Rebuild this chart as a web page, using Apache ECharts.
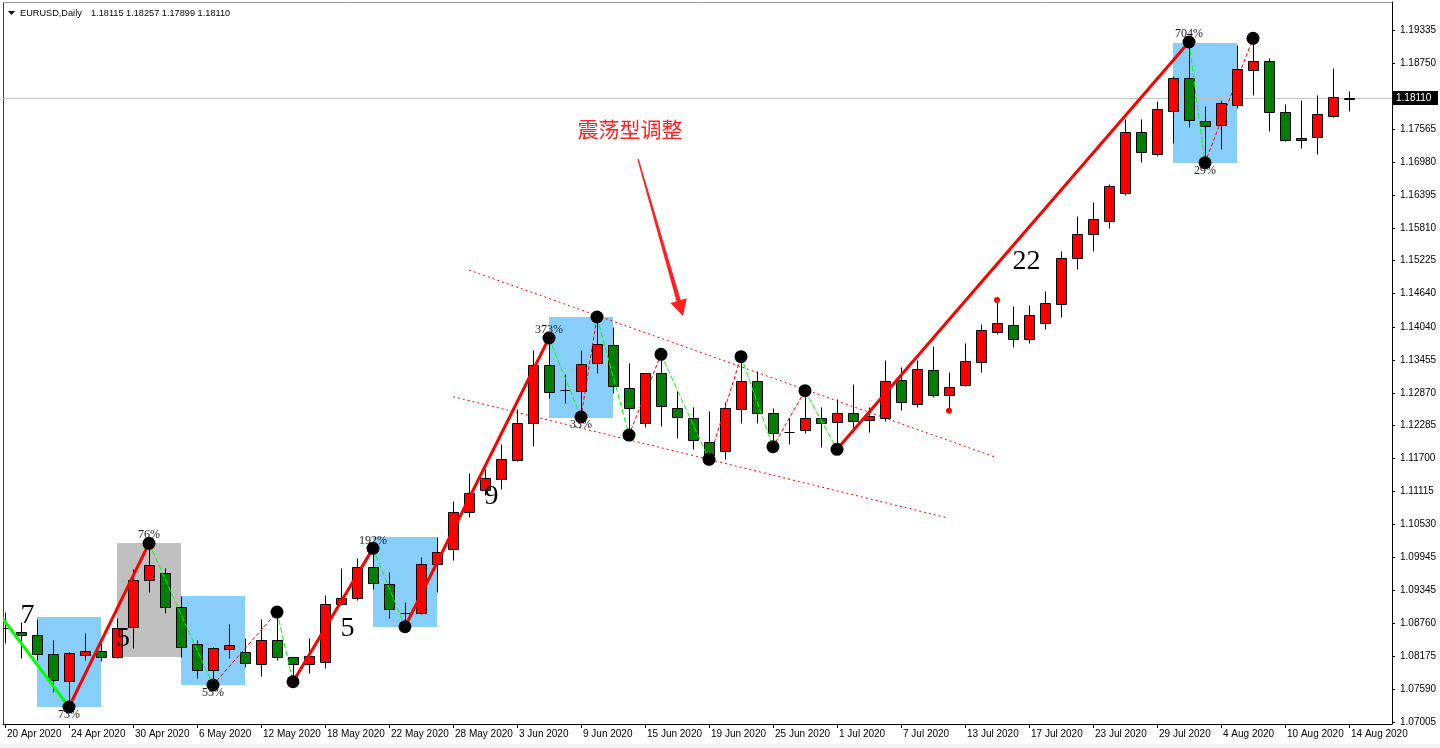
<!DOCTYPE html>
<html><head><meta charset="utf-8">
<script src="https://cdn.jsdelivr.net/npm/echarts@6/dist/echarts.min.js"></script>
<style>html,body{margin:0;padding:0;background:#fff;}#c{width:1440px;height:748px;}</style>
</head><body><div id="c"></div>
<script>
// ---------------- data ----------------
const dates = [
'20 Apr 2020','21 Apr 2020','22 Apr 2020','23 Apr 2020','24 Apr 2020',
'27 Apr 2020','28 Apr 2020','29 Apr 2020','30 Apr 2020','1 May 2020',
'4 May 2020','5 May 2020','6 May 2020','7 May 2020','8 May 2020',
'11 May 2020','12 May 2020','13 May 2020','14 May 2020','15 May 2020',
'18 May 2020','19 May 2020','20 May 2020','21 May 2020','22 May 2020',
'25 May 2020','26 May 2020','27 May 2020','28 May 2020','29 May 2020',
'1 Jun 2020','2 Jun 2020','3 Jun 2020','4 Jun 2020','5 Jun 2020',
'8 Jun 2020','9 Jun 2020','10 Jun 2020','11 Jun 2020','12 Jun 2020',
'15 Jun 2020','16 Jun 2020','17 Jun 2020','18 Jun 2020','19 Jun 2020',
'22 Jun 2020','23 Jun 2020','24 Jun 2020','25 Jun 2020','26 Jun 2020',
'29 Jun 2020','30 Jun 2020','1 Jul 2020','2 Jul 2020','3 Jul 2020',
'6 Jul 2020','7 Jul 2020','8 Jul 2020','9 Jul 2020','10 Jul 2020',
'13 Jul 2020','14 Jul 2020','15 Jul 2020','16 Jul 2020','17 Jul 2020',
'20 Jul 2020','21 Jul 2020','22 Jul 2020','23 Jul 2020','24 Jul 2020',
'27 Jul 2020','28 Jul 2020','29 Jul 2020','30 Jul 2020','31 Jul 2020',
'3 Aug 2020','4 Aug 2020','5 Aug 2020','6 Aug 2020','7 Aug 2020',
'10 Aug 2020','11 Aug 2020','12 Aug 2020','13 Aug 2020','14 Aug 2020'];

const open = [
1.08680,1.08603,1.08555,1.08211,1.07744,
1.08193,1.08269,1.08171,1.08692,1.09535,
1.09654,1.09048,1.08389,1.07931,1.08300,
1.08246,1.08032,1.08465,1.08157,1.08032,
1.08068,1.09107,1.09209,1.09761,1.09463,
1.08950,1.08941,1.09814,1.10082,1.10752,
1.11138,1.11340,1.11673,1.12327,1.13366,
1.12925,1.12908,1.13396,1.13722,1.12950,
1.12327,1.13218,1.12594,1.12416,1.11999,
1.11833,1.12576,1.13081,1.12505,1.12175,
1.12207,1.12416,1.12345,1.12505,1.12380,
1.12430,1.13098,1.12676,1.13277,1.12826,
1.13015,1.13424,1.13948,1.14073,1.13824,
1.14109,1.14453,1.15267,1.15695,1.15926,
1.16436,1.17512,1.17120,1.17892,1.18474,
1.17713,1.17637,1.17993,1.18622,1.18783,
1.17869,1.17375,1.17423,1.17808,1.18115];

const close = [
1.08675,1.08549,1.08216,1.07753,1.08228,
1.08269,1.08171,1.08674,1.09535,1.09802,
1.09059,1.08346,1.07931,1.08328,1.08376,
1.08050,1.08465,1.08157,1.08032,1.08180,
1.09107,1.09209,1.09761,1.09476,1.09013,
1.08955,1.09814,1.10039,1.10752,1.11080,
1.11347,1.11685,1.12327,1.13366,1.12879,
1.12920,1.13384,1.13740,1.12991,1.12594,
1.13218,1.12635,1.12434,1.12029,1.11762,
1.12594,1.13081,1.12505,1.12159,1.12172,
1.12416,1.12327,1.12505,1.12373,1.12457,
1.13081,1.12712,1.13294,1.12836,1.12974,
1.13437,1.13989,1.14109,1.13824,1.14251,
1.14465,1.15267,1.15695,1.15962,1.16555,
1.17512,1.17156,1.17922,1.18474,1.17731,
1.17624,1.18029,1.18635,1.18783,1.17869,
1.17370,1.17416,1.17833,1.18136,1.18110];

const high = [
1.08964,1.08786,1.08840,1.08465,1.08257,
1.08596,1.08412,1.08852,1.09725,1.10189,
1.09743,1.09249,1.08465,1.08341,1.08745,
1.08496,1.08834,1.08964,1.08162,1.08496,
1.09267,1.09743,1.09927,1.10099,1.09683,
1.09148,1.09950,1.10306,1.10948,1.11447,
1.11507,1.11958,1.12576,1.13633,1.13847,
1.13205,1.13633,1.14221,1.14048,1.13407,
1.13228,1.13556,1.12908,1.12612,1.12546,
1.12712,1.13514,1.13259,1.12594,1.12416,
1.12908,1.12623,1.12754,1.13027,1.12623,
1.13455,1.13335,1.13455,1.13704,1.13241,
1.13763,1.14096,1.14524,1.14417,1.14435,
1.14684,1.15397,1.16021,1.16270,1.16586,
1.17744,1.17744,1.18070,1.18515,1.19121,
1.17981,1.18088,1.19068,1.19187,1.18841,
1.18016,1.18088,1.18177,1.18653,1.18257];

const low = [
1.08412,1.08145,1.08109,1.07544,1.07272,
1.08109,1.08091,1.08154,1.08318,1.09326,
1.08941,1.08168,1.07794,1.07664,1.08139,
1.07990,1.07829,1.08109,1.07722,1.07872,
1.07961,1.09089,1.09178,1.09369,1.08852,
1.08702,1.08929,1.09326,1.09891,1.10663,
1.11049,1.11151,1.11655,1.11928,1.12778,
1.12683,1.12439,1.13218,1.12872,1.12118,
1.12256,1.12279,1.12060,1.11864,1.11685,
1.11685,1.12327,1.12327,1.11910,1.11958,
1.12149,1.11899,1.11864,1.12177,1.12177,
1.12373,1.12564,1.12612,1.12790,1.12551,
1.12991,1.13246,1.13913,1.13692,1.13752,
1.14013,1.14226,1.15071,1.15402,1.15812,
1.16400,1.16988,1.17090,1.17316,1.17612,
1.16970,1.17209,1.17940,1.18182,1.17535,
1.17357,1.17227,1.17120,1.17790,1.17899];

const priceTicks = [1.07005,1.07590,1.08175,1.08760,1.09345,1.09945,1.10530,1.11115,1.11700,1.12285,
  1.12870,1.13455,1.14040,1.14640,1.15225,1.15810,1.16395,1.16980,1.17565,1.18150,1.18750,1.19335];
const currentPrice = 1.18110;

// zigzag pivots (bar index, price) and leg kinds
const pivotBar = [-3,4,9,13,17,18,23,25,34,36,37,39,41,44,46,48,50,52,74,75,78];
const pivotPrice = [1.09930,1.07272,1.10189,1.07664,1.08964,1.07722,1.10099,1.08702,1.13847,1.12439,
  1.14221,1.12118,1.13556,1.11685,1.13514,1.11910,1.12908,1.11864,1.19121,1.16970,1.19187];
const legKind = ['mainDown','mainUp','subDown','subUp','subDown','mainUp','subDown','mainUp','subDown','subUp',
  'subDown','subUp','subDown','subUp','subDown','subUp','subDown','mainUp','subDown','subUp'];

// percentage labels at pivots
const pctBar = [4,9,13,23,34,36,74,75];
const pctPrice = [1.07272,1.10189,1.07664,1.10099,1.13847,1.12439,1.19121,1.16970];
const pctText = ['73%','76%','55%','192%','373%','33%','704%','29%'];
const pctSide = [1,-1,1,-1,-1,1,-1,1];

// shaded boxes
const boxFrom = [2,7,11,23,34,73];
const boxTo = [6,11,15,27,38,77];
const boxTop = [1.08870,1.10189,1.09255,1.10306,1.14226,1.19109];
const boxBottom = [1.07266,1.08168,1.07664,1.08702,1.12427,1.16970];
const boxKind = ['zone','pause','zone','zone','zone','zone'];

// dotted channel
const chanFromBar = [29,28], chanFromPrice = [1.15058,1.12801];
const chanToBar = [61.875,58.94], chanToPrice = [1.11726,1.10639];

// small red marks
const markBar = [59,62];
const markPrice = [1.12551,1.14524];

// wave counts
const countBar = [1.406,7.375,21.406,30.406,63.84];
const countPrice = [1.08893,1.08483,1.08661,1.11014,1.15201];
const countText = ['7','5','5','9','22'];

// note and arrow
const noteText = '震荡型调整';
const noteAt = [39.06,1.17571];
const arrowFrom = [39.5625,1.17036];
const arrowTo = [42.375,1.14239];

// ---------------- chart ----------------
const PX_PER_PRICE = 5612.33;
const yMax = 1.19335 + 28 / PX_PER_PRICE;
const yMin = 1.19335 - 694 / PX_PER_PRICE;
const tickIdx = dates.map((d,i)=>i).filter(i=>i%4===0);

const chart = echarts.init(document.getElementById('c'));

const legStyle = {
  mainDown:{stroke:'#00ff00',lineWidth:3},
  mainUp:{stroke:'#ff0000',lineWidth:3},
  subDown:{stroke:'#00ff00',lineWidth:1,lineDash:[5,3]},
  subUp:{stroke:'#ff0000',lineWidth:1,lineDash:[3,3]}
};

const option = {
  animation:false,
  backgroundColor:'#ffffff',
  grid:{left:3,right:48,top:2,bottom:24},
  xAxis:{
    type:'value', min:-0.125, max:86.6875,
    axisLine:{show:true,onZero:false,lineStyle:{color:'#000',width:1}},
    axisTick:{show:true,customValues:tickIdx,length:4,lineStyle:{color:'#000'}},
    axisLabel:{customValues:tickIdx,formatter:v=>dates[Math.round(v)],align:'left',margin:5,
      fontSize:10,fontFamily:'"Liberation Sans", Arial, sans-serif',color:'#000',padding:[0,0,0,2]},
    splitLine:{show:false}
  },
  yAxis:{
    type:'value', position:'right', min:yMin, max:yMax,
    axisLine:{show:true,onZero:false,lineStyle:{color:'#000',width:1}},
    axisTick:{show:true,customValues:priceTicks,length:3,lineStyle:{color:'#000'}},
    axisLabel:{customValues:priceTicks,formatter:v=>v.toFixed(5),margin:8,
      fontSize:10,fontFamily:'"Liberation Sans", Arial, sans-serif',color:'#000'},
    splitLine:{show:false}
  },
  series:[
    { // boxes
      type:'custom', z:1, clip:true, silent:true,
      data: boxFrom.map((b,i)=>[b,boxTop[i],boxTo[i],boxBottom[i]]),
      renderItem(params, api){
        const k = params.dataIndex;
        const p1 = api.coord([api.value(0),api.value(1)]);
        const p2 = api.coord([api.value(2),api.value(3)]);
        return {type:'rect', shape:{x:Math.round(p1[0]),y:Math.round(p1[1]),
          width:Math.round(p2[0])-Math.round(p1[0]),height:Math.round(p2[1])-Math.round(p1[1])},
          style:{fill: boxKind[k]==='pause' ? '#c0c0c0' : '#87cefa'}};
      }
    },
    { // current price line + tag
      type:'custom', z:1, clip:false, silent:true,
      data:[[0,currentPrice]],
      renderItem(params, api){
        const cs = params.coordSys;
        const y = Math.floor(api.coord([0,api.value(1)])[1]) + 0.5;
        const xr = cs.x + cs.width;
        return {type:'group', children:[
          {type:'line', shape:{x1:cs.x,y1:y,x2:xr,y2:y}, style:{stroke:'#c0c0c0',lineWidth:1}},
          {type:'rect', shape:{x:xr+1,y:y-7.5,width:45,height:14}, style:{fill:'#000'}},
          {type:'text', x:xr+4, y:y, style:{text:api.value(1).toFixed(5), font:'10px "Liberation Sans", Arial',
            fill:'#fff', verticalAlign:'middle', align:'left'}}
        ]};
      }
    },
    { // channel lines
      type:'custom', z:2, clip:true, silent:true,
      data: chanFromBar.map((b,i)=>[b,chanFromPrice[i],chanToBar[i],chanToPrice[i]]),
      renderItem(params, api){
        const a = api.coord([api.value(0),api.value(1)]);
        const b = api.coord([api.value(2),api.value(3)]);
        return {type:'line', shape:{x1:a[0],y1:a[1],x2:b[0],y2:b[1]},
          style:{stroke:'#ff0000',lineWidth:1,lineDash:[2,3]}};
      }
    },
    { // candles
      type:'custom', z:3, clip:true, silent:true,
      data: dates.map((d,i)=>[i,open[i],close[i],low[i],high[i]]),
      renderItem(params, api){
        const i = api.value(0), o = api.value(1), c = api.value(2), l = api.value(3), h = api.value(4);
        const pO = api.coord([i,o]), pC = api.coord([i,c]), pL = api.coord([i,l]), pH = api.coord([i,h]);
        const cx = Math.round(pO[0]) + 0.5;
        const yT = Math.round(Math.min(pO[1],pC[1])) + 0.5;
        const yB = Math.round(Math.max(pO[1],pC[1])) + 0.5;
        const hw = 5;
        const ch = [{type:'line', shape:{x1:cx,y1:Math.round(pH[1])+0.5,x2:cx,y2:Math.round(pL[1])+0.5},
          style:{stroke:'#000',lineWidth:1}}];
        if (yB - yT < 1) {
          ch.push({type:'line', shape:{x1:cx-hw,y1:yT,x2:cx+hw,y2:yT}, style:{stroke:'#000',lineWidth:1}});
        } else {
          ch.push({type:'rect', shape:{x:cx-hw,y:yT,width:2*hw,height:yB-yT},
            style:{fill: c>o ? '#ff0000' : '#008000', stroke:'#000', lineWidth:1}});
        }
        return {type:'group', children:ch};
      }
    },
    { // zigzag legs
      type:'custom', z:4, clip:true, silent:true,
      data: legKind.map((k,i)=>[pivotBar[i],pivotPrice[i],pivotBar[i+1],pivotPrice[i+1]]),
      renderItem(params, api){
        const a = api.coord([api.value(0),api.value(1)]);
        const b = api.coord([api.value(2),api.value(3)]);
        return {type:'line', shape:{x1:a[0],y1:a[1],x2:b[0],y2:b[1]},
          style:Object.assign({lineCap:'round'}, legStyle[legKind[params.dataIndex]])};
      }
    },
    { // pivot dots
      type:'scatter', z:5, silent:true, symbolSize:13,
      itemStyle:{color:'#000',opacity:1},
      data: pivotBar.slice(1).map((b,i)=>[b,pivotPrice[i+1]])
    },
    { // small red marks
      type:'scatter', z:5, silent:true, symbolSize:6,
      itemStyle:{color:'#ff0000',opacity:1},
      data: markBar.map((b,i)=>[b,markPrice[i]])
    },
    { // percentage labels
      type:'custom', z:6, clip:false, silent:true,
      data: pctBar.map((b,i)=>[b,pctPrice[i]]),
      renderItem(params, api){
        const k = params.dataIndex;
        const p = api.coord([api.value(0),api.value(1)]);
        return {type:'text', x:p[0], y:p[1]+pctSide[k]*8,
          style:{text:pctText[k], font:'12px "Liberation Serif", "Times New Roman", serif', fill:'#1a1a1a',
            align:'center', verticalAlign:'middle'}};
      }
    },
    { // wave counts
      type:'custom', z:6, clip:false, silent:true,
      data: countBar.map((b,i)=>[b,countPrice[i]]),
      renderItem(params, api){
        const k = params.dataIndex;
        const p = api.coord([api.value(0),api.value(1)]);
        return {type:'text', x:p[0], y:p[1],
          style:{text:countText[k], font:'28px "Liberation Serif", "Times New Roman", serif', fill:'#000',
            align:'center', verticalAlign:'middle'}};
      }
    },
    { // note + arrow
      type:'custom', z:6, clip:false, silent:true,
      data:[[noteAt[0],noteAt[1],arrowFrom[0],arrowFrom[1],arrowTo[0],arrowTo[1]]],
      renderItem(params, api){
        const t = api.coord([api.value(0),api.value(1)]);
        const a = api.coord([api.value(2),api.value(3)]);
        const b = api.coord([api.value(4),api.value(5)]);
        const dx = b[0]-a[0], dy = b[1]-a[1], len = Math.hypot(dx,dy);
        const ux = dx/len, uy = dy/len, px = -uy, py = ux;
        const headLen = 16, headHalf = 8.5, neckHalf = 2.2, tailHalf = 0.7;
        const nx = b[0]-ux*headLen, ny = b[1]-uy*headLen;
        const pts = [
          [a[0]+px*tailHalf, a[1]+py*tailHalf],
          [nx+px*neckHalf, ny+py*neckHalf],
          [nx+px*headHalf, ny+py*headHalf],
          [b[0], b[1]],
          [nx-px*headHalf, ny-py*headHalf],
          [nx-px*neckHalf, ny-py*neckHalf],
          [a[0]-px*tailHalf, a[1]-py*tailHalf]
        ];
        return {type:'group', children:[
          {type:'text', x:t[0], y:t[1], style:{text:noteText, font:'21px "Noto Sans CJK SC", sans-serif',
            fill:'#ff2020', align:'center', verticalAlign:'middle'}},
          {type:'polygon', shape:{points:pts}, style:{fill:'#ff2020'}}
        ]};
      }
    }
  ],
  graphic:[
    {type:'line', shape:{x1:3.5,y1:2,x2:3.5,y2:724}, style:{stroke:'#404040',lineWidth:1}, silent:true},
    {type:'line', shape:{x1:3,y1:2.5,x2:1392,y2:2.5}, style:{stroke:'#9a9a9a',lineWidth:1}, silent:true},
    {type:'rect', shape:{x:0,y:744,width:1440,height:4}, style:{fill:'#f0f0f0'}, silent:true},
    {type:'polygon', shape:{points:[[8,11],[15,11],[11.5,15]]}, style:{fill:'#000'}, silent:true},
    {type:'text', x:20, y:13, silent:true, style:{text:'EURUSD,Daily', font:'9.2px "Liberation Sans", Arial',
      fill:'#000', verticalAlign:'middle'}},
    {type:'text', x:91, y:13, silent:true, style:{text:[open[84],high[84],low[84],close[84]].map(v=>v.toFixed(5)).join(' '),
      font:'9.2px "Liberation Sans", Arial', fill:'#000', verticalAlign:'middle'}}
  ]
};
chart.setOption(option);
</script>
</body></html>
